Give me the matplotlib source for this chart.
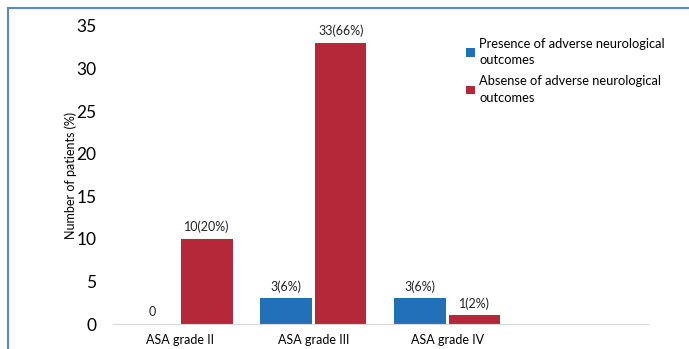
import numpy as np
import matplotlib
matplotlib.use("Agg")
import matplotlib.pyplot as plt
from matplotlib.lines import Line2D

plt.rcParams['font.family'] = ['Lato', 'DejaVu Sans']

# data
grades = ['ASA grade II', 'ASA grade III', 'ASA grade IV']
presence = [0, 3, 3]
absence = [10, 33, 1]
presence_lbl = ['0', '3(6%)', '3(6%)']
absence_lbl = ['10(20%)', '33(66%)', '1(2%)']
yticks = [0, 5, 10, 15, 20, 25, 30, 35]

blue = '#2170b8'
red = '#b52839'

fig = plt.figure(figsize=(6.89, 3.49), dpi=100)
ax = fig.add_axes([0.164, 0.0716, 0.776, 0.854])

x = np.arange(len(grades))
w = 0.385
off = 0.204
b1 = ax.bar(x - off, presence, w, color=blue, label='Presence of adverse neurological\noutcomes')
b2 = ax.bar(x + off, absence, w, color=red, label='Absense of adverse neurological\noutcomes')

for bars, labs in ((b1, presence_lbl), (b2, absence_lbl)):
    for r, t in zip(bars, labs):
        ax.annotate(t, (r.get_x() + r.get_width() / 2, r.get_height()),
                    xytext=(0, 4), textcoords='offset points',
                    ha='center', va='bottom', fontsize=9, color='#222222')

ax.set_xlim(-0.5, 3.5)
ax.set_ylim(0, 35)
ax.set_yticks(yticks)
ax.set_xticks(x)
ax.set_xticklabels(grades, fontsize=9)
ax.tick_params(axis='y', labelsize=12.5, length=0, pad=12)
ax.tick_params(axis='x', length=0, pad=7)
for s in ['top', 'right', 'left']:
    ax.spines[s].set_visible(False)
ax.spines['bottom'].set_color('#d9d9d9')
ax.set_ylabel('Number of patients (%)', fontsize=9, labelpad=-1)

leg = fig.legend(loc='upper left', bbox_to_anchor=(0.66, 0.925), frameon=False,
                 fontsize=9.3, handlelength=0.65, handleheight=0.65,
                 handletextpad=0.35, labelspacing=0.7)
for t in leg.get_texts():
    t.set_linespacing(1.45)

# frame around figure (top and left edges)
fig.add_artist(Line2D([0.012, 1.0], [0.977, 0.977], transform=fig.transFigure,
                      color='#5b86cf', lw=1.5))
fig.add_artist(Line2D([0.012, 0.012], [0.0, 0.977], transform=fig.transFigure,
                      color='#5b86cf', lw=1.5))

fig.savefig('out.png', dpi=100)
